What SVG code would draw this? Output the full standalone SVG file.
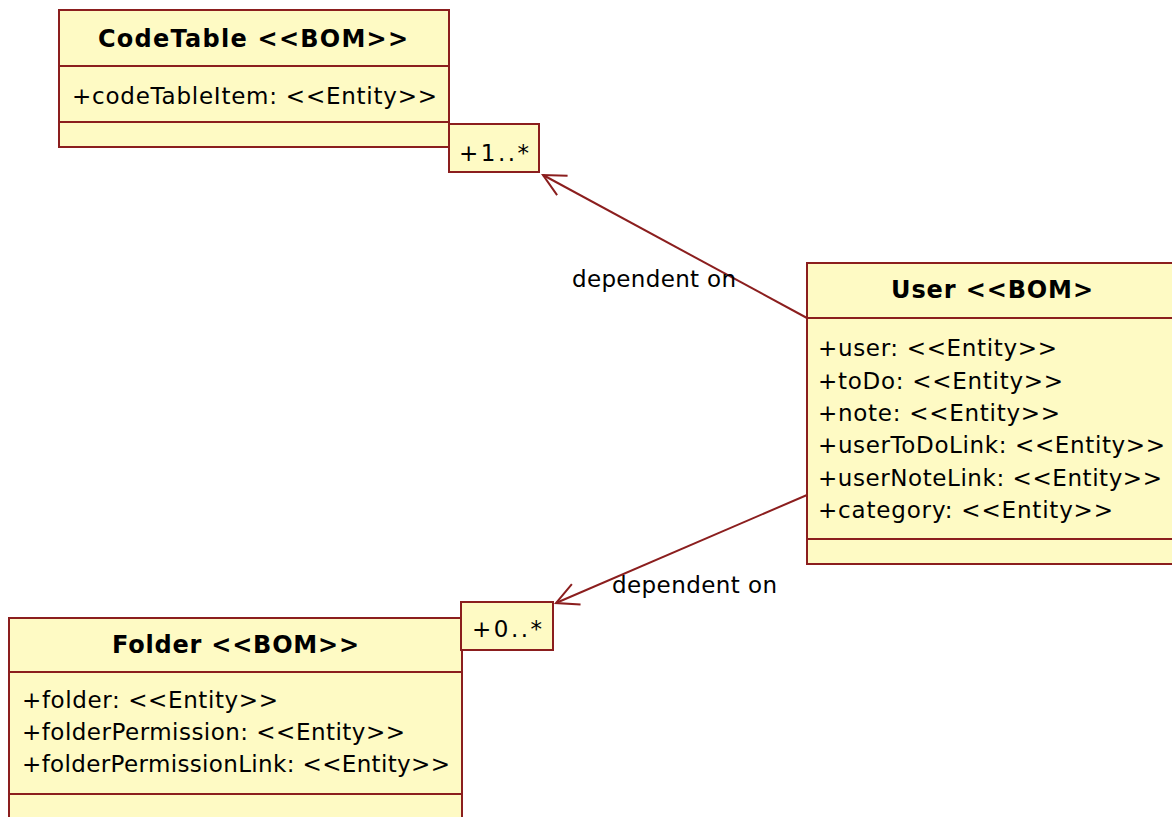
<svg xmlns="http://www.w3.org/2000/svg" width="1172" height="817" viewBox="0 0 1172 817">
  <style>
    .box { fill: #FEFAC4; stroke: #8B1E1E; stroke-width: 2; }
    .div { stroke: #8B1E1E; stroke-width: 2; }
    .title { font-family: "DejaVu Sans", "Liberation Sans", sans-serif; font-size: 24px; font-weight: bold; fill: #000; }
    .attr { font-family: "DejaVu Sans", "Liberation Sans", sans-serif; font-size: 23px; fill: #000; }
    .conn { fill: none; stroke: #8B1E1E; stroke-width: 2; }
  </style>
  <defs>
    <marker id="open" markerUnits="userSpaceOnUse" markerWidth="30" markerHeight="30" refX="0" refY="0" orient="auto" overflow="visible">
      <path d="M -22,-11 L 0,0 L -22,11" fill="none" stroke="#8B1E1E" stroke-width="2"/>
    </marker>
  </defs>
  <rect width="1172" height="817" fill="#ffffff"/>

  <g id="codetable">
    <rect class="box" x="59" y="10" width="390" height="137"/>
    <line class="div" x1="59" y1="66" x2="449" y2="66"/>
    <line class="div" x1="59" y1="122" x2="449" y2="122"/>
    <text class="title" x="98" y="47" textLength="310" lengthAdjust="spacing">CodeTable &lt;&lt;BOM&gt;&gt;</text>
    <text class="attr" x="72" y="104" textLength="365" lengthAdjust="spacing">+codeTableItem: &lt;&lt;Entity&gt;&gt;</text>
  </g>

  <g id="user">
    <rect class="box" x="807" y="263" width="380" height="301"/>
    <line class="div" x1="807" y1="318" x2="1180" y2="318"/>
    <line class="div" x1="807" y1="539" x2="1180" y2="539"/>
    <text class="title" x="891" y="298" textLength="202" lengthAdjust="spacing">User &lt;&lt;BOM&gt;</text>
    <text class="attr" x="818" y="356" textLength="239" lengthAdjust="spacing">+user: &lt;&lt;Entity&gt;&gt;</text>
    <text class="attr" x="818" y="388.5" textLength="245" lengthAdjust="spacing">+toDo: &lt;&lt;Entity&gt;&gt;</text>
    <text class="attr" x="818" y="421" textLength="242" lengthAdjust="spacing">+note: &lt;&lt;Entity&gt;&gt;</text>
    <text class="attr" x="818" y="453" textLength="347" lengthAdjust="spacing">+userToDoLink: &lt;&lt;Entity&gt;&gt;</text>
    <text class="attr" x="818" y="485.5" textLength="344" lengthAdjust="spacing">+userNoteLink: &lt;&lt;Entity&gt;&gt;</text>
    <text class="attr" x="818" y="518" textLength="295" lengthAdjust="spacing">+category: &lt;&lt;Entity&gt;&gt;</text>
  </g>

  <g id="folder">
    <rect class="box" x="9" y="618" width="453" height="220"/>
    <line class="div" x1="9" y1="672" x2="462" y2="672"/>
    <line class="div" x1="9" y1="794" x2="462" y2="794"/>
    <text class="title" x="112" y="653" textLength="247" lengthAdjust="spacing">Folder &lt;&lt;BOM&gt;&gt;</text>
    <text class="attr" x="22" y="708" textLength="256" lengthAdjust="spacing">+folder: &lt;&lt;Entity&gt;&gt;</text>
    <text class="attr" x="22" y="740" textLength="383" lengthAdjust="spacing">+folderPermission: &lt;&lt;Entity&gt;&gt;</text>
    <text class="attr" x="22" y="772" textLength="428" lengthAdjust="spacing">+folderPermissionLink: &lt;&lt;Entity&gt;&gt;</text>
  </g>

  <g id="connectors">
    <line class="conn" x1="807" y1="318" x2="543" y2="175" marker-end="url(#open)"/>
    <line class="conn" x1="807" y1="495" x2="556" y2="603" marker-end="url(#open)"/>
    <g id="mult-codetable">
      <rect class="box" x="449" y="124" width="90" height="48"/>
      <text class="attr" x="459" y="161" textLength="70" lengthAdjust="spacing">+1..*</text>
    </g>
    <g id="mult-folder">
      <rect class="box" x="461" y="602" width="92" height="48"/>
      <text class="attr" x="472" y="637" textLength="70" lengthAdjust="spacing">+0..*</text>
    </g>
    <text class="attr" x="572" y="287" textLength="164" lengthAdjust="spacing">dependent on</text>
    <text class="attr" x="612" y="593" textLength="165" lengthAdjust="spacing">dependent on</text>
  </g>
</svg>
